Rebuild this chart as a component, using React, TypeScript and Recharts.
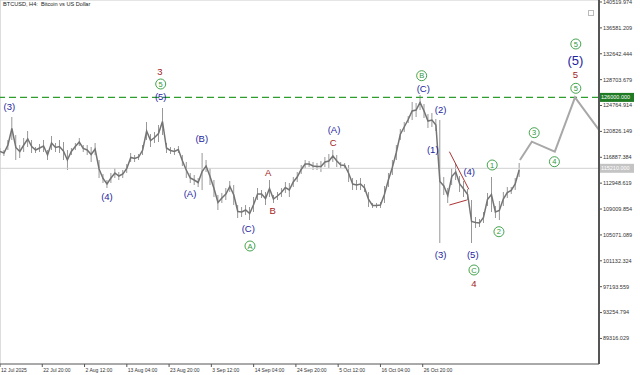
import React from 'react';
import { ComposedChart, Bar, Line, XAxis, YAxis, ReferenceLine, ReferenceDot } from 'recharts';

// H4 bars, sampled once per day (high / low)
const barHigh = [
  118300, 117996, 119518, 123018, 120279, 118757, 119822, 120888, 119518, 118453,
  118909, 119518, 117996, 120127, 119062, 119518, 119214, 117996, 118300, 119062,
  119822, 118757, 118757, 118453, 119062, 116474, 114343, 113430, 114495, 115256,
  114648, 114952, 115865, 117540, 117235, 117387, 118757, 122258, 120432, 120736,
  121801, 124388, 119062, 118453, 118300, 118605, 117235, 116170, 114495, 114191,
  113734, 117540, 116474, 115256, 113430, 111147, 111451, 112212, 113278, 112669,
  109625, 109320, 109625, 109320, 110842, 112212, 111908, 111603, 113430, 111147,
  111603, 112212, 113125, 112973, 113886, 114648, 115713, 116474, 116322, 116170,
  116017, 116322, 116931, 117387, 117996, 117235, 116170, 116017, 115713, 113734,
  113430, 113734, 112821, 111603, 109929, 109929, 110081, 112517, 114495, 116474,
  118757, 121192, 122258, 123170, 125301, 125148, 126366, 124996, 123475, 123627,
  122714, 122562, 113886, 112212, 115256, 115865, 114039, 113278, 112060, 110386,
  107798, 107494, 108559, 111451, 113886, 109472, 110233, 111603, 112364, 112364,
  113734, 116017,
];
const barLow = [
  117235, 117083, 117996, 119518, 116474, 116778, 117692, 118453, 117540, 117540,
  117692, 117692, 116474, 117996, 117692, 117540, 116474, 114952, 117235, 117996,
  118605, 117692, 117235, 116170, 117235, 113734, 112973, 112212, 112973, 113734,
  113430, 113734, 114495, 116170, 116170, 116474, 117235, 119518, 118453, 119062,
  119214, 120279, 117540, 117387, 117235, 117540, 115561, 113734, 112973, 112669,
  112364, 111908, 114648, 112669, 110842, 108864, 109929, 110386, 111603, 109625,
  107646, 107798, 108102, 107342, 108559, 110386, 110690, 109625, 110842, 109929,
  110386, 110842, 111451, 110842, 112364, 113125, 114343, 115256, 115409, 114952,
  114952, 114648, 115409, 115256, 116170, 115409, 115256, 115256, 113125, 111908,
  111908, 111908, 111603, 109320, 109168, 109168, 109168, 109929, 112364, 114191,
  116474, 119518, 120736, 122105, 122562, 123018, 124083, 122866, 121345, 121497,
  120888, 103841, 111147, 109929, 112669, 113430, 111603, 110842, 110386, 103841,
  106124, 106276, 106885, 109472, 108559, 107646, 107342, 109472, 110690, 111299,
  111908, 113886,
];

// forecast path (days, prices)
const forecastDays = [131.2, 134.2, 140.0, 145.1, 151.1];
const forecastPrices = [116474, 119260, 117737, 126000, 121100];

const timeTicks = [0, 10.667, 21.333, 32, 42.667, 53.333, 64, 74.667, 85.333, 96, 106.667];
const timeLabels = [
  '12 Jul 2025', '22 Jul 20:00', '2 Aug 12:00', '13 Aug 04:00', '23 Aug 20:00', '3 Sep 12:00',
  '14 Sep 04:00', '24 Sep 20:00', '5 Oct 12:00', '16 Oct 04:00', '26 Oct 20:00',
];
const priceTicks = [
  140519.974, 136581.209, 132642.444, 128703.679, 124764.914, 120826.149, 116887.384,
  112948.619, 109009.854, 105071.089, 101132.324, 97193.559, 93254.794, 89316.029,
];

const targetLevel = 126000;
const bidLevel = 115210;

// wave count labels: [day, price, text, style]
const waveLabels: [number, number, string, string][] = [
  [2.35, 124586, '(3)', 'navy'],
  [40.37, 129912, '3', 'red'],
  [40.55, 128040, '5', 'circle'],
  [40.55, 126107, '(5)', 'navy'],
  [27.0, 110950, '(4)', 'navy'],
  [50.9, 119670, '(B)', 'navy'],
  [47.94, 111405, '(A)', 'navy'],
  [67.7, 114541, 'A', 'red'],
  [68.8, 108758, 'B', 'red'],
  [62.65, 106079, '(C)', 'navy'],
  [63.08, 103385, 'A', 'circle'],
  [84.28, 121039, '(A)', 'navy'],
  [84.1, 119106, 'C', 'red'],
  [106.4, 129303, 'B', 'circle'],
  [106.8, 127386, '(C)', 'navy'],
  [111.2, 124083, '(2)', 'navy'],
  [109.2, 118102, '(1)', 'navy'],
  [118.4, 114693, '(4)', 'navy'],
  [124.2, 115713, '1', 'circle'],
  [125.9, 105561, '2', 'circle'],
  [111.2, 101996, '(3)', 'navy'],
  [119.3, 102016, '(5)', 'navy'],
  [119.6, 99733, 'C', 'circle'],
  [119.6, 97602, '4', 'red'],
  [134.8, 120628, '3', 'circle'],
  [139.9, 116215, '4', 'circle'],
  [145.3, 134128, '5', 'circle'],
  [145.2, 131586, '(5)', 'big'],
  [145.2, 129516, '5', 'red'],
  [145.3, 127386, '5', 'circle'],
];

// triangle of wave (4)
const triangleUpper: [number, number][] = [[113.4, 117737], [118.3, 112014]];
const triangleLower: [number, number][] = [[113.4, 109625], [117.8, 110386]];

const NAVY = '#1d24a0';
const RED = '#a31c1c';
const GREEN = '#2f9a3a';

const chartData: any[] = [
  ...barHigh.map((h, i) => ({ day: i, range: [barLow[i], h], mid: (barLow[i] + h) / 2 })),
  ...forecastDays.map((d, i) => ({ day: d, proj: forecastPrices[i] })),
];

const WaveMark = ({ cx, cy, text, kind }: any) => {
  if (kind === 'circle') {
    return (
      <g>
        <circle cx={cx} cy={cy} r={5} fill="#fff" fillOpacity={0.6} stroke={GREEN} strokeWidth={0.9} />
        <text x={cx} y={cy} dy="0.35em" textAnchor="middle" fontSize={7.5} fill={GREEN}>{text}</text>
      </g>
    );
  }
  const size = kind === 'big' ? 13 : 9.5;
  const color = kind === 'red' ? RED : NAVY;
  return (
    <text x={cx} y={cy} dy="0.35em" textAnchor="middle" fontSize={size} fill={color}>{text}</text>
  );
};

const TimeTick = ({ x, y, payload }: any) => {
  const idx = timeTicks.indexOf(payload.value);
  return (
    <g>
      <line x1={x} y1={y} x2={x} y2={y + 3} stroke="#555" />
      <text x={x + 1} y={y + 8} fontSize={5} fill="#333" textAnchor="start">{timeLabels[idx]}</text>
    </g>
  );
};

const PriceTick = ({ x, y, payload }: any) => (
  <g>
    <line x1={x} y1={y} x2={x + 3} y2={y} stroke="#555" />
    <text x={x + 4} y={y} dy="0.35em" fontSize={5.5} fill="#333" textAnchor="start">
      {payload.value.toFixed(3)}
    </text>
  </g>
);

const priceTag = (value: number, bg: string) => ({ viewBox }: any) => (
  <g>
    <rect x={viewBox.x + viewBox.width} y={viewBox.y - 4.5} width={35} height={9} fill={bg} />
    <text x={viewBox.x + viewBox.width + 2} y={viewBox.y} dy="0.35em" fontSize={5.5} fill="#fff">
      {value.toFixed(3)}
    </text>
  </g>
);

export default function App() {
  return (
    <div style={{ position: 'absolute', left: 0, top: 0, width: 640, height: 375, background: '#fff', fontFamily: '"Liberation Sans", Arial, sans-serif' }}>
      <ComposedChart width={640} height={375} data={chartData} margin={{ top: 0, right: 0, bottom: 0, left: 0 }}>
        <XAxis
          dataKey="day"
          type="number"
          domain={[0, 151.15]}
          ticks={timeTicks}
          allowDataOverflow
          height={11}
          stroke="#555"
          tickSize={0}
          tickMargin={0}
          tick={<TimeTick />}
          interval={0}
        />
        <YAxis
          orientation="right"
          type="number"
          domain={[85427, 140824]}
          ticks={priceTicks}
          allowDataOverflow
          width={41}
          axisLine={{ stroke: '#555', strokeWidth: 2 }}
          tickSize={0}
          tickMargin={0}
          tick={<PriceTick />}
          interval={0}
        />
        <ReferenceLine x={0} stroke="#bbb" />
        <ReferenceLine y={140824} stroke="#ccc" />
        <ReferenceLine y={bidLevel} stroke="#d0d0d0" label={priceTag(bidLevel, '#c4c4c4')} />
        <ReferenceLine
          y={targetLevel}
          stroke="#2e9e2e"
          strokeWidth={1.1}
          strokeDasharray="7 4"
          label={priceTag(targetLevel, '#1f7a24')}
        />
        <Bar dataKey="range" fill="#6f6f6f" barSize={2.5} isAnimationActive={false} />
        <Line dataKey="mid" stroke="#747474" strokeWidth={1.5} dot={false} activeDot={false} isAnimationActive={false} />
        <Line
          dataKey="proj"
          stroke="#a8a8a8"
          strokeWidth={2}
          dot={false}
          activeDot={false}
          isAnimationActive={false}
        />
        <ReferenceLine
          segment={triangleUpper.map(([x, y]) => ({ x, y }))}
          stroke={RED}
          strokeWidth={0.9}
        />
        <ReferenceLine
          segment={triangleLower.map(([x, y]) => ({ x, y }))}
          stroke={RED}
          strokeWidth={0.9}
        />
        {waveLabels.map(([d, p, text, kind], i) => (
          <ReferenceDot
            key={i}
            x={d}
            y={p}
            r={0}
            shape={(props: any) => <WaveMark cx={props.cx} cy={props.cy} text={text} kind={kind} />}
          />
        ))}
      </ComposedChart>
      <div style={{ position: 'absolute', left: 3, top: 1, fontSize: 5.6, color: '#222', whiteSpace: 'nowrap' }}>
        BTCUSD, H4:&nbsp; Bitcoin vs US Dollar
      </div>
      <div style={{ position: 'absolute', left: 588, top: 10, width: 6, height: 6, border: '1px solid #bbb', boxSizing: 'border-box' }} />
    </div>
  );
}
